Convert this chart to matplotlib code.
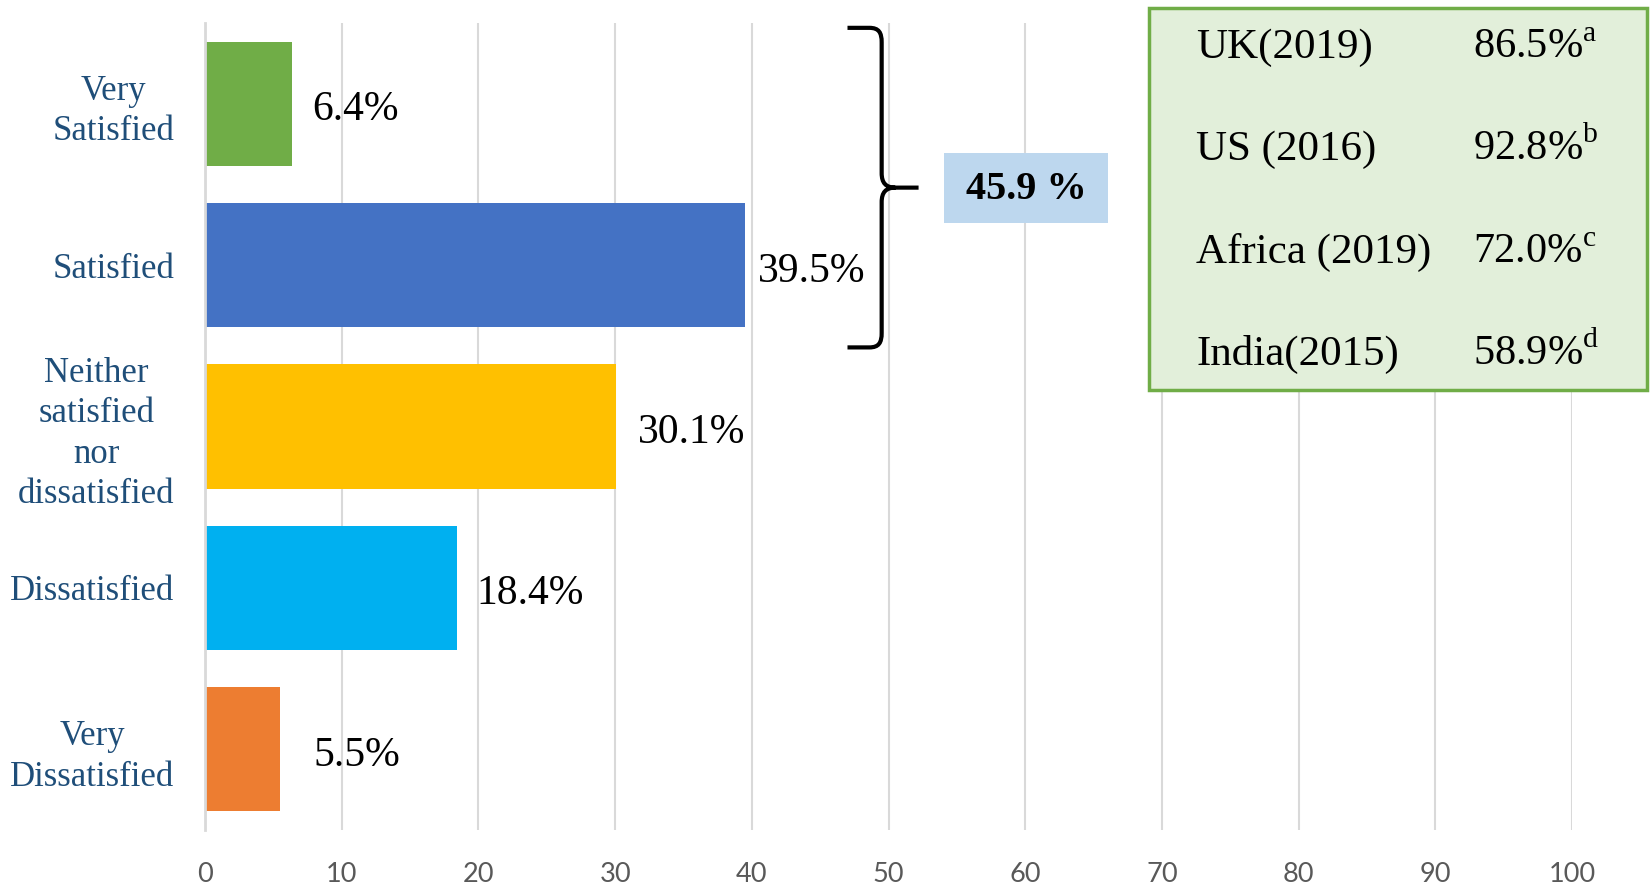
import numpy as np
import matplotlib
matplotlib.use("Agg")
import matplotlib.pyplot as plt
import matplotlib.transforms as mtransforms
from matplotlib.path import Path
from matplotlib.patches import PathPatch, Rectangle

# survey answers, top to bottom
categories = ["Very\nSatisfied", "Satisfied", "Neither\nsatisfied\nnor\ndissatisfied",
              "Dissatisfied", "Very\nDissatisfied"]
values = [6.4, 39.5, 30.1, 18.4, 5.5]
colors = ["#70AD47", "#4472C4", "#FFC000", "#00B0F0", "#ED7D31"]
label_pad = [20, 13, 21, 20, 33]  # px gap between bar end and its label

# comparison box
regions = ["UK(2019)", "US (2016)", "Africa (2019)", "India(2015)"]
rates = [86.5, 92.8, 72.0, 58.9]
refs = ["a", "b", "c", "d"]

xticks = np.arange(0, 101, 10)

plt.rcParams["mathtext.fontset"] = "custom"
plt.rcParams["mathtext.rm"] = "Liberation Serif"
serif = "Liberation Serif"

W, H = 1652, 894
fig = plt.figure(figsize=(W / 100, H / 100), dpi=100)
ax = fig.add_axes([205 / W, 1 - 830 / H, (1572 - 205) / W, (830 - 23) / H])

y = np.arange(len(values))
ax.barh(y, values, height=0.77, color=colors, zorder=2)
ax.set_xlim(0, 100)
ax.set_ylim(len(values) - 0.5, -0.5)

ax.set_xticks(xticks)
ax.set_xticklabels([str(t) for t in xticks], family=["Lato", "DejaVu Sans"],
                   fontsize=19.5, color="#595959")
ax.set_yticks(y)
ax.set_yticklabels(categories, family=serif, fontsize=25, color="#1F4E79",
                   multialignment="center", linespacing=1.3)
# nudge the category labels up a few pixels
shift = mtransforms.ScaledTranslation(0, 4 / 100, fig.dpi_scale_trans)
for lab in ax.get_yticklabels():
    lab.set_transform(lab.get_transform() + shift)
ax.tick_params(axis="both", length=0)
ax.tick_params(axis="y", pad=22)
ax.tick_params(axis="x", pad=23)
ax.grid(axis="x", color="#D9D9D9", linewidth=1.5, zorder=0)
ax.set_axisbelow(True)
for s in ["top", "right", "bottom"]:
    ax.spines[s].set_visible(False)
ax.spines["left"].set_color("#D9D9D9")
ax.spines["left"].set_linewidth(2)

for yi, v, p in zip(y, values, label_pad):
    ax.annotate(f"{v}%", (v, yi), xytext=(p * 0.72, -4.5), textcoords="offset points",
                ha="left", va="center", family=serif, fontsize=30, color="black")

# brace grouping the two satisfied bars
top, bot = -0.47, 1.51
mid = (top + bot) / 2
xb, xe, xt = 49.5, 47.0, 52.2
verts = [(xe, top), (48.6, top), (49.3, top), (xb, top + 0.03), (xb, top + 0.09),
         (xb, mid - 0.09), (xb, mid - 0.03), (49.8, mid), (50.5, mid), (xt, mid),
         (50.5, mid), (49.8, mid), (xb, mid + 0.03), (xb, mid + 0.09),
         (xb, bot - 0.09), (xb, bot - 0.03), (49.3, bot), (48.6, bot), (xe, bot)]
codes = [Path.MOVETO, Path.LINETO, Path.CURVE4, Path.CURVE4, Path.CURVE4,
         Path.LINETO, Path.CURVE4, Path.CURVE4, Path.CURVE4, Path.LINETO,
         Path.MOVETO, Path.CURVE4, Path.CURVE4, Path.CURVE4,
         Path.LINETO, Path.CURVE4, Path.CURVE4, Path.CURVE4, Path.LINETO]
ax.add_patch(PathPatch(Path(verts, codes), facecolor="none", edgecolor="black",
                       linewidth=3, capstyle="butt", zorder=3))

total = values[0] + values[1]
ax.add_patch(Rectangle((54.06, 0.305), 12.0, 0.434, facecolor="#BDD7EE",
                       edgecolor="none", zorder=3))
ax.text(60.06, mid + 0.01, f"{total:.1f} %", ha="center", va="center", family=serif,
        fontsize=29, fontweight="bold", color="black", zorder=4)

# comparison table box
fig.patches.append(Rectangle((1149 / W, 1 - 390 / H), 498 / W, 382 / H,
                             transform=fig.transFigure, facecolor="#E2EFDA",
                             edgecolor="#70AD47", linewidth=2.5, zorder=5))
for i, (r, v, s) in enumerate(zip(regions, rates, refs)):
    yb = 1 - (58 + i * 102.3) / H
    fig.text(1196 / W, yb, r, ha="left", va="baseline", family=serif,
             fontsize=31, color="black", zorder=6)
    fig.text(1473 / W, yb, f"{v:.1f}%$^{{\\mathrm{{{s}}}}}$", ha="left", va="baseline",
             family=serif, fontsize=30.5, color="black", zorder=6)

fig.savefig("out.png", dpi=100)
